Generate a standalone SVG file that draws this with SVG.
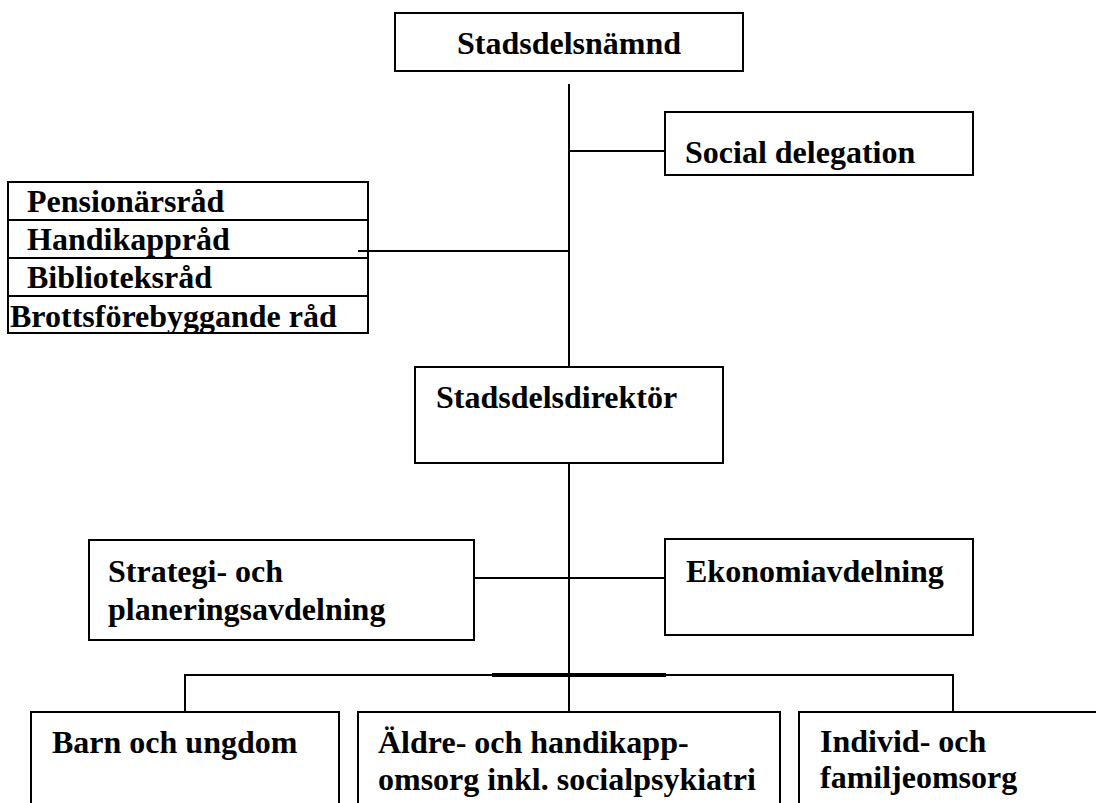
<svg xmlns="http://www.w3.org/2000/svg" width="1096" height="803" viewBox="0 0 1096 803">
<style>
.box{fill:#fff;stroke:#000;stroke-width:2}
.ln{stroke:#000;stroke-width:2;fill:none}
.t{font-family:"Liberation Serif","Times New Roman",serif;font-weight:bold;font-size:32px;fill:#000}
</style>
<rect width="1096" height="803" fill="#fff"/>
<g id="stadsdelsnamnd">
<rect class="box" x="395" y="13" width="348" height="58"/>
<text class="t" x="457" y="54">Stadsdelsnämnd</text>
</g>
<g id="social-delegation">
<rect class="box" x="665" y="112" width="308" height="63"/>
<text class="t" x="685" y="163">Social delegation</text>
</g>
<g id="rad">
<rect class="box" x="8" y="182" width="360" height="151"/>
<line class="ln" x1="8" y1="220" x2="368" y2="220"/>
<line class="ln" x1="8" y1="258" x2="368" y2="258"/>
<line class="ln" x1="8" y1="296" x2="368" y2="296"/>
<text class="t" x="27" y="212">Pensionärsråd</text>
<text class="t" x="27" y="250">Handikappråd</text>
<text class="t" x="27" y="288">Biblioteksråd</text>
<text class="t" x="10" y="327">Brottsförebyggande råd</text>
</g>
<g id="stadsdelsdirektor">
<rect class="box" x="415" y="367" width="308" height="96"/>
<text class="t" x="436" y="408">Stadsdelsdirektör</text>
</g>
<g id="strategi">
<rect class="box" x="89" y="540" width="385" height="100"/>
<text class="t" x="108" y="582">Strategi- och</text>
<text class="t" x="108" y="620">planeringsavdelning</text>
</g>
<g id="ekonomi">
<rect class="box" x="665" y="539" width="308" height="96"/>
<text class="t" x="686" y="582">Ekonomiavdelning</text>
</g>
<g id="barn">
<rect class="box" x="31" y="712" width="308" height="120"/>
<text class="t" x="52" y="753">Barn och ungdom</text>
</g>
<g id="aldre">
<rect class="box" x="358" y="712" width="422" height="120"/>
<text class="t" x="378" y="753">Äldre- och handikapp-</text>
<text class="t" x="378" y="790">omsorg inkl. socialpsykiatri</text>
</g>
<g id="individ">
<rect class="box" x="799" y="712" width="320" height="120"/>
<text class="t" x="820" y="752">Individ- och</text>
<text class="t" x="820" y="788">familjeomsorg</text>
</g>
<g id="connectors">
<line class="ln" x1="569" y1="84" x2="569" y2="367"/>
<line class="ln" x1="569" y1="151" x2="665" y2="151"/>
<line class="ln" x1="358" y1="251" x2="569" y2="251"/>
<line class="ln" x1="569" y1="463" x2="569" y2="712"/>
<line class="ln" x1="474" y1="578" x2="665" y2="578"/>
<polyline class="ln" points="185,712 185,675 953,675 953,712"/>
<line stroke="#000" stroke-width="4" x1="492" y1="675" x2="666" y2="675"/>
</g>
</svg>
